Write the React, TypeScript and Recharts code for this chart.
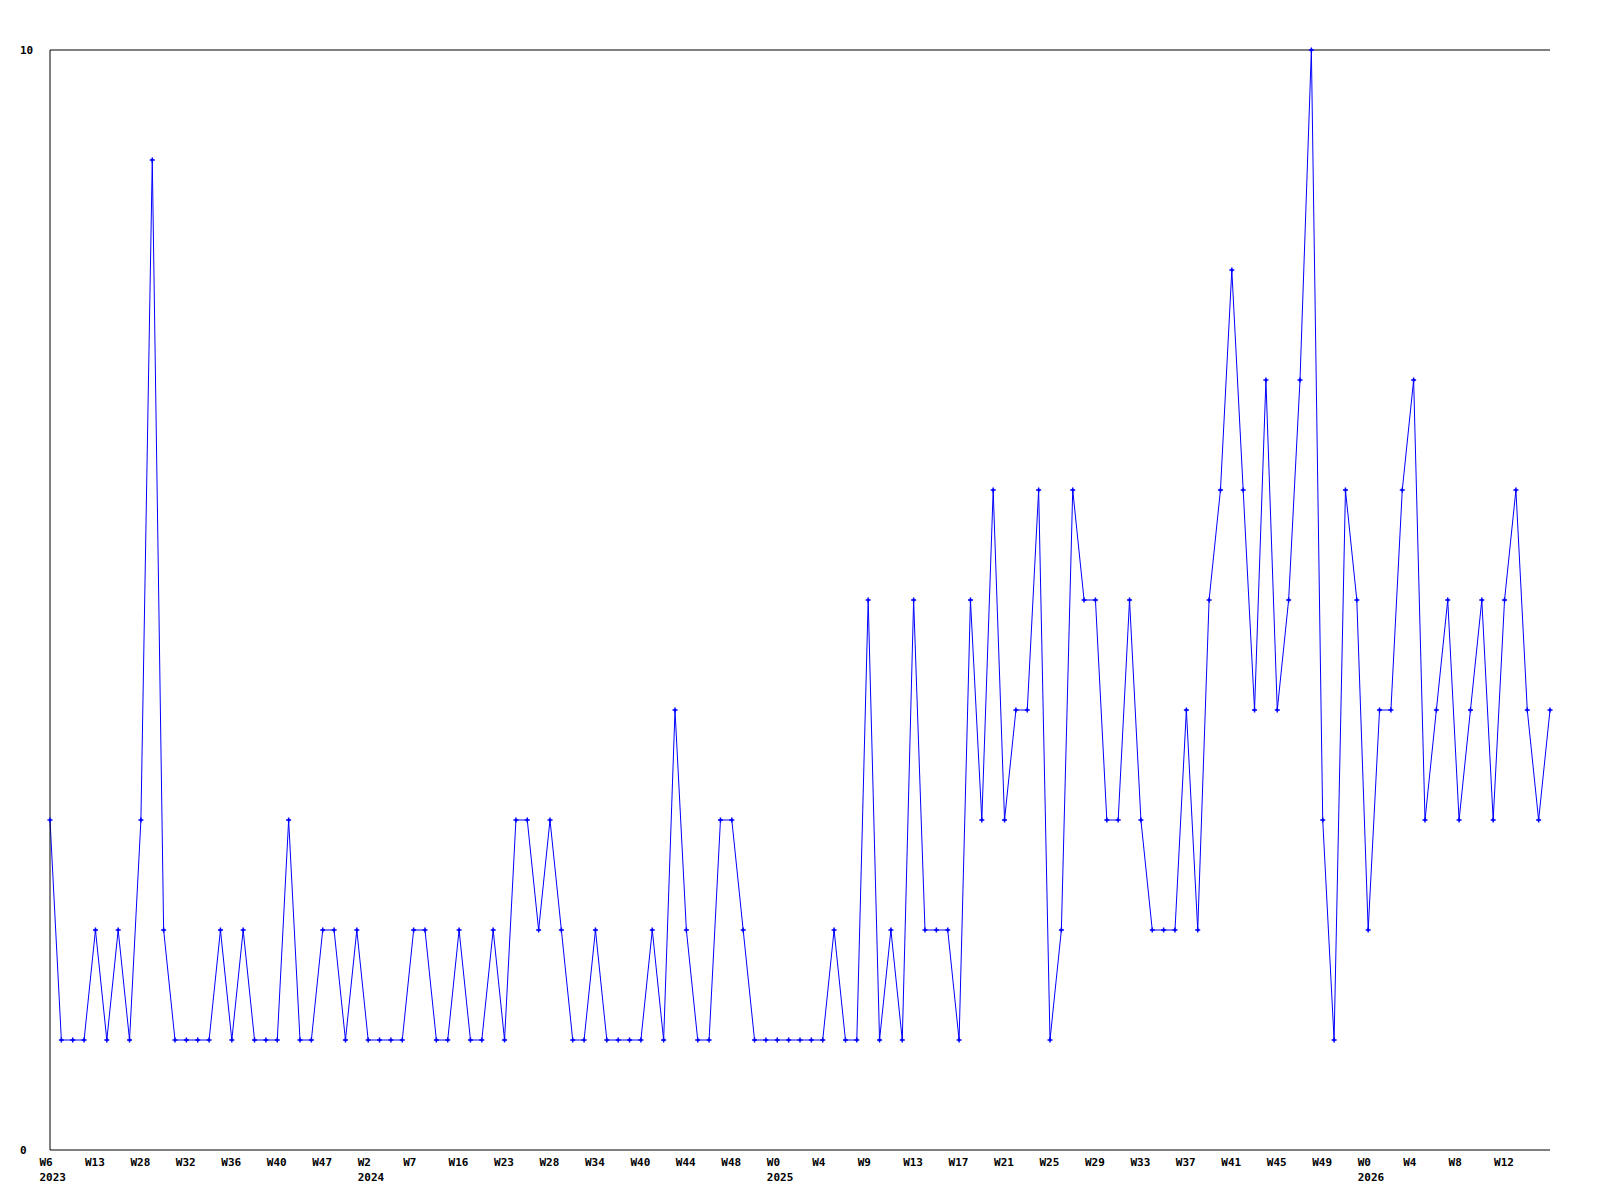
import React from "react";
import { LineChart, Line, XAxis, YAxis, ReferenceLine } from "recharts";

// Series values, one per period (133 points)
const counts: number[] = [
  3, 1, 1, 1, 2, 1, 2, 1, 3, 9,
  2, 1, 1, 1, 1, 2, 1, 2, 1, 1,
  1, 3, 1, 1, 2, 2, 1, 2, 1, 1,
  1, 1, 2, 2, 1, 1, 2, 1, 1, 2,
  1, 3, 3, 2, 3, 2, 1, 1, 2, 1,
  1, 1, 1, 2, 1, 4, 2, 1, 1, 3,
  3, 2, 1, 1, 1, 1, 1, 1, 1, 2,
  1, 1, 5, 1, 2, 1, 5, 2, 2, 2,
  1, 5, 3, 6, 3, 4, 4, 6, 1, 2,
  6, 5, 5, 3, 3, 5, 3, 2, 2, 2,
  4, 2, 5, 6, 8, 6, 4, 7, 4, 5,
  7, 10, 3, 1, 6, 5, 2, 4, 4, 6,
  7, 3, 4, 5, 3, 4, 5, 3, 5, 6,
  4, 3, 4,
];

// Tick labels (one every 4th point)
const weekLabels: string[] = [
  "W6", "W13", "W28", "W32", "W36", "W40", "W47", "W2", "W7", "W16", "W23",
  "W28", "W34", "W40", "W44", "W48", "W0", "W4", "W9", "W13", "W17", "W21",
  "W25", "W29", "W33", "W37", "W41", "W45", "W49", "W0", "W4", "W8", "W12",
];
const yearLabels: string[] = [
  "2023", "", "", "", "", "", "", "2024", "", "", "",
  "", "", "", "", "", "2025", "", "", "", "", "",
  "", "", "", "", "", "", "", "2026", "", "", "",
];
const tickIndices: number[] = weekLabels.map((_, k) => k * 4);
const yTicks: number[] = [0, 10];

const data = counts.map((v, i) => ({ i, v }));

const FONT = "'DejaVu Sans Mono', 'Liberation Mono', monospace";

const XTick = (props: any) => {
  const { x, y, payload } = props;
  const k = tickIndices.indexOf(payload.value);
  return (
    <g>
      <text x={x - 10.5} y={y + 15.5} textAnchor="start" fontFamily={FONT} fontSize={11} fontWeight="bold" fill="#000">
        {weekLabels[k]}
      </text>
      {yearLabels[k] ? (
        <text x={x - 10.5} y={y + 31} textAnchor="start" fontFamily={FONT} fontSize={11} fontWeight="bold" fill="#000">
          {yearLabels[k]}
        </text>
      ) : null}
    </g>
  );
};

const YTick = (props: any) => {
  const { y, payload } = props;
  return (
    <text x={12} y={y + 4} textAnchor="start" fontFamily={FONT} fontSize={11} fontWeight="bold" fill="#000">
      {payload.value}
    </text>
  );
};

const PlusDot = (props: any) => {
  const { cx, cy, index } = props;
  if (cx == null || cy == null) return null;
  return (
    <g key={`d${index}`}>
      <path d={`M${cx - 2.5},${cy} H${cx + 2.5} M${cx},${cy - 2.5} V${cy + 2.5}`} stroke="#0000ff" strokeWidth={1.5} fill="none" />
      <rect x={cx - 1} y={cy - 1} width={2} height={2} fill="#0000ff" />
    </g>
  );
};

export default function App() {
  return (
    <div style={{ width: 1584, height: 1184, background: "#fff" }}>
      <LineChart width={1584} height={1184} data={data} margin={{ top: 42, right: 42, bottom: 0, left: 0 }}>
        <XAxis
          dataKey="i"
          type="number"
          domain={[0, 132]}
          ticks={tickIndices}
          interval={0}
          tickLine={false}
          tickSize={0}
          tickMargin={0}
          height={42}
          axisLine={{ stroke: "#000", strokeWidth: 1 }}
          tick={<XTick />}
        />
        <YAxis
          type="number"
          domain={[0, 10]}
          ticks={yTicks}
          interval={0}
          tickLine={false}
          tickSize={0}
          width={42}
          axisLine={{ stroke: "#000", strokeWidth: 1 }}
          tick={<YTick />}
        />
        <ReferenceLine y={10} stroke="#000" strokeWidth={1} />
        <Line
          type="linear"
          dataKey="v"
          stroke="#0000ff"
          strokeWidth={1}
          dot={<PlusDot />}
          activeDot={false}
          isAnimationActive={false}
        />
      </LineChart>
    </div>
  );
}
